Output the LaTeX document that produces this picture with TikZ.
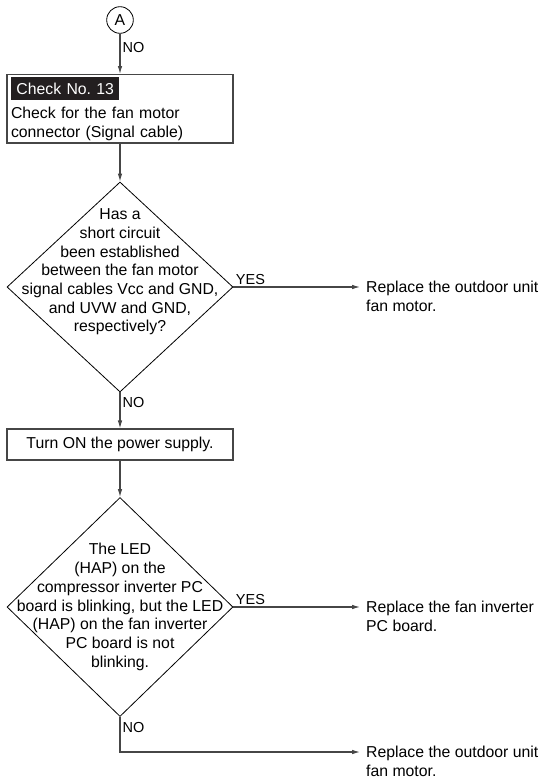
\documentclass[tikz,border=0pt]{standalone}
\usepackage{fontspec}
\setmainfont{Liberation Sans}
\usepackage{xcolor}
\usetikzlibrary{arrows.meta,shapes.geometric,positioning}
\definecolor{lineGray}{RGB}{70,70,70}
\definecolor{tagBlack}{RGB}{35,31,32}
\newcommand{\flowsize}{\fontsize{15.8}{18.6}\selectfont}
\newcommand{\asksize}{\fontsize{15.8}{18.7}\selectfont}
\newcommand{\answersize}{\fontsize{14.5}{16}\selectfont}
\tikzset{
  stepbox/.style={rectangle, draw=lineGray, line width=1.1pt, minimum width=226pt,
    inner xsep=4pt, font=\flowsize},
  decision/.style={diamond, draw=black, line width=0.8pt, minimum width=226pt, inner sep=0pt},
  asktext/.style={align=center, font=\asksize, inner sep=0pt},
  linkcircle/.style={circle, draw=black, line width=0.8pt, minimum size=26.6pt,
    inner sep=0pt, font=\flowsize},
  answer/.style={font=\answersize, inner sep=2pt},
  result/.style={align=left, font=\flowsize, inner sep=0pt, anchor=north west},
  flowArrow/.style={-{Latex[length=8pt,width=4.6pt]}, draw=lineGray, line width=1.1pt}
}

\begin{document}
\begin{tikzpicture}[x=1pt, y=-1pt]
  \useasboundingbox (0,0) rectangle (544,779);
  % connector A and the check box
  \node[linkcircle] (a) at (120,20) {A};
  \node[stepbox, anchor=north, text width=218pt, align=left, inner ysep=2.5pt] (chk) at (120,74)
    {\setlength{\fboxsep}{5.5pt}\colorbox{tagBlack}{\color{white}Check No.\ 13}\\[6pt]
     Check for the fan motor\\connector (Signal cable)};
  % first question
  \node[decision, minimum height=210pt] (q1) at (120,287) {};
  \node[asktext] (q1t) at (120,272) {Has a\\short circuit\\been established\\between the fan motor\\signal cables Vcc and GND,\\and UVW and GND,\\respectively?};
  \node[stepbox, minimum height=31pt] (pwr) at (120,444.5) {Turn ON the power supply.};
  % second question
  \node[decision, minimum height=219pt] (q2) at (120,607) {};
  \node[asktext] (q2t) at (120,607) {The LED\\(HAP) on the\\compressor inverter PC\\board is blinking, but the LED\\(HAP) on the fan inverter\\PC board is not\\blinking.};
  % tips of the side arrows
  \coordinate (t1) at (360,287);
  \coordinate (t2) at (360,607);
  \coordinate (t3) at (360,752);
  \node[result] (r1) at ([xshift=6pt,yshift=5.7pt]t1) {Replace the outdoor unit\\fan motor.};
  \node[result] (r2) at ([xshift=6pt,yshift=5.7pt]t2) {Replace the fan inverter\\PC board.};
  \node[result] (r3) at ([xshift=6pt,yshift=5.7pt]t3) {Replace the outdoor unit\\fan motor.};
  % arrows
  \draw[flowArrow] (a) -- node[answer, anchor=west, pos=0.34] (n1) {NO} (chk);
  \draw[flowArrow] (chk) -- (q1);
  \draw[flowArrow] (q1) -- node[answer, anchor=west, pos=0.27] (n2) {NO} (pwr);
  \draw[flowArrow] (q1.east) -- node[answer, anchor=south west, pos=0] (y1) {YES} (t1);
  \draw[flowArrow] (pwr) -- (q2);
  \draw[flowArrow] (q2.east) -- node[answer, anchor=south west, pos=0] (y2) {YES} (t2);
  \draw[flowArrow] (q2.south) |- node[answer, anchor=west, pos=0.15] (n3) {NO} (t3);
\end{tikzpicture}
\end{document}
